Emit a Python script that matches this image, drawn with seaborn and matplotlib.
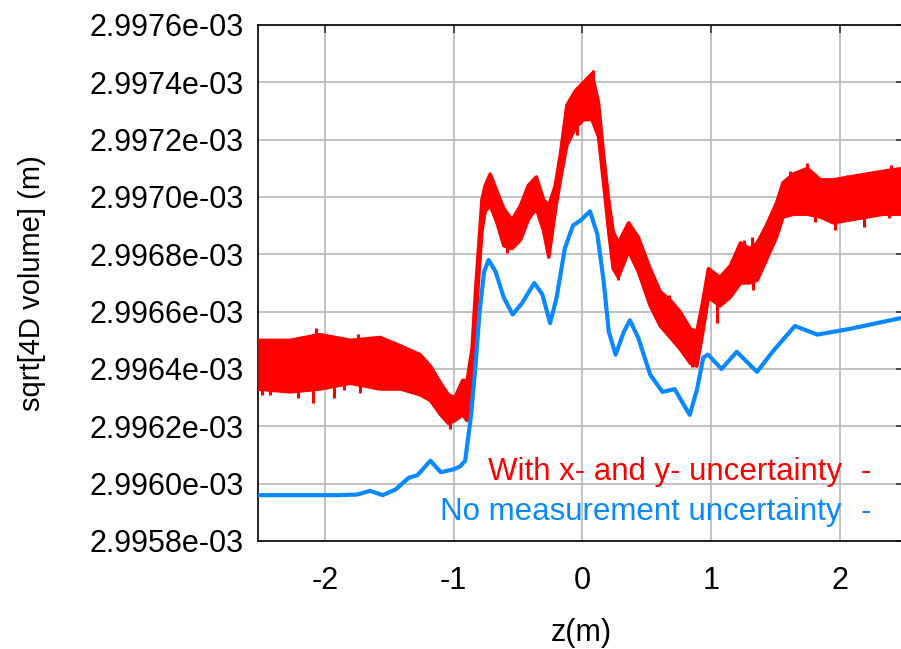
import numpy as np
import pandas as pd
import seaborn as sns
import matplotlib
matplotlib.use("Agg")
from matplotlib import pyplot as plt
from matplotlib.ticker import FuncFormatter

# values in units of 1e-3 m
blue_z = [-2.52, -1.9, -1.75, -1.65, -1.55, -1.45, -1.35, -1.28, -1.18, -1.1, -1.0, -0.95,
          -0.91, -0.864, -0.832, -0.80, -0.763, -0.728, -0.674, -0.611, -0.541, -0.468,
          -0.373, -0.31, -0.25, -0.199, -0.136, -0.073, -0.009, 0.06, 0.117, 0.165, 0.206,
          0.259, 0.323, 0.37, 0.434, 0.528, 0.623, 0.718, 0.782, 0.835, 0.892, 0.94, 0.978,
          1.082, 1.2, 1.358, 1.478, 1.652, 1.826, 2.08, 2.5]
blue_v = [2.99596, 2.99596, 2.995962, 2.995975, 2.99596, 2.99598, 2.99602, 2.99603, 2.99608,
          2.99604, 2.99605, 2.99606, 2.99608, 2.99624, 2.99640, 2.99659, 2.99674, 2.99678,
          2.99674, 2.99665, 2.99659, 2.99663, 2.99670, 2.99666, 2.99656, 2.99665, 2.99682,
          2.99690, 2.99692, 2.99695, 2.99687, 2.99671, 2.99653, 2.99645, 2.99653, 2.99657,
          2.99651, 2.99638, 2.99632, 2.99633, 2.99628, 2.99624, 2.99633, 2.99644, 2.99645,
          2.99640, 2.99646, 2.99639, 2.99646, 2.99655, 2.99652, 2.99654, 2.99658]

red_z = [-2.52, -2.27, -2.04, -1.80, -1.57, -1.41, -1.26, -1.18, -1.10, -1.04, -0.99, -0.93,
         -0.895, -0.857, -0.83, -0.805, -0.78, -0.755, -0.715, -0.663, -0.61, -0.546, -0.48,
         -0.42, -0.357, -0.30, -0.26, -0.21, -0.17, -0.12, -0.054, 0.01, 0.075, 0.126, 0.165,
         0.205, 0.24, 0.28, 0.36, 0.435, 0.528, 0.606, 0.684, 0.76, 0.84, 0.89, 0.93, 0.98,
         1.07, 1.15, 1.23, 1.30, 1.36, 1.43, 1.51, 1.56, 1.64, 1.75, 1.85, 1.95, 2.08, 2.21,
         2.34, 2.5]
red_hi = [2.99650, 2.99650, 2.99652, 2.99650, 2.99651, 2.99648, 2.99645, 2.99641, 2.99635,
          2.99631, 2.99630, 2.99636, 2.99636, 2.99647, 2.99667, 2.99683, 2.99699, 2.99704,
          2.99708, 2.99702, 2.99696, 2.99692, 2.99697, 2.99704, 2.99707, 2.99699, 2.99697,
          2.99704, 2.99715, 2.99732, 2.99737, 2.99740, 2.99743, 2.99733, 2.99715, 2.99699,
          2.99688, 2.99684, 2.99691, 2.99686, 2.99675, 2.99667, 2.99664, 2.99660, 2.99654,
          2.99653, 2.99662, 2.99675, 2.99672, 2.99676, 2.99684, 2.99682, 2.99684, 2.99690,
          2.99698, 2.99705, 2.99708, 2.99710, 2.99706, 2.99706, 2.99707, 2.99708, 2.99709,
          2.99710]
red_lo = [2.99633, 2.99632, 2.99633, 2.99635, 2.99633, 2.99633, 2.99631, 2.99629, 2.99624,
          2.99621, 2.99622, 2.99624, 2.99622, 2.99636, 2.99653, 2.99672, 2.99688, 2.99695,
          2.99697, 2.99691, 2.99683, 2.99682, 2.99685, 2.99692, 2.99696, 2.99688, 2.99679,
          2.99695, 2.99706, 2.99718, 2.99724, 2.99727, 2.99727, 2.99721, 2.99705, 2.99688,
          2.99675, 2.99672, 2.99681, 2.99674, 2.99662, 2.99655, 2.99651, 2.99647, 2.99642,
          2.99641, 2.99651, 2.99665, 2.99662, 2.99665, 2.99670, 2.99670, 2.99671, 2.99678,
          2.99686, 2.99693, 2.99694, 2.99694, 2.99693, 2.99691, 2.99692, 2.99693, 2.99694,
          2.99694]

# visible noise spikes of the red trace (z, tip value)
spike_z = [-2.466, -2.388, -2.31, -2.19, -2.07, -1.97, -1.86, -1.74, -1.64,
           -2.49, -2.43, -2.32, -2.21, -2.095, -1.93, -1.85, -1.73, -1.62, -1.03,
           -0.585, -0.04, 0.086, 0.28, 0.67, 0.852, 1.047, 1.253, 1.318, 1.33,
           1.616, 1.75, 2.057, 2.21, 2.40, 1.81, 1.966, 2.186, 2.38]
spike_v = [2.996478, 2.996492, 2.996484, 2.996505, 2.996542, 2.996478, 2.996499, 2.996522, 2.996513,
           2.99631, 2.99631, 2.996327, 2.996298, 2.996283, 2.996298, 2.996327, 2.996315, 2.996345,
           2.99619, 2.996805, 2.997217, 2.997444, 2.996711, 2.996659, 2.996408, 2.99656,
           2.996851, 2.996861, 2.996676, 2.997089, 2.99712, 2.997078, 2.997078, 2.997112,
           2.996914, 2.996886, 2.996895, 2.996926]

y_ticks = [2.9958, 2.9960, 2.9962, 2.9964, 2.9966, 2.9968, 2.9970, 2.9972, 2.9974, 2.9976]
x_ticks = [-2, -1, 0, 1, 2]

sns.set_theme(style="white")
plt.rcParams['font.family'] = ['Liberation Sans', 'DejaVu Sans']
plt.rcParams['text.color'] = 'black'
plt.rcParams['axes.labelcolor'] = 'black'
plt.rcParams['xtick.color'] = 'black'
plt.rcParams['ytick.color'] = 'black'

red = "#ff0000"
blue = "#0a88ff"

fig = plt.figure(figsize=(9.01, 6.49), dpi=100)
ax = fig.add_axes([258 / 901, 108 / 649, 646 / 901, 516 / 649])

df_blue = pd.DataFrame({"z": blue_z, "v": np.array(blue_v) * 1e-3})
rz = np.array(red_z)
rhi = np.array(red_hi) * 1e-3
rlo = np.array(red_lo) * 1e-3

ax.fill_between(rz, rlo, rhi, color=red, lw=0, zorder=3)
ax.plot(rz, rhi, color=red, lw=2.5, zorder=3)
ax.plot(rz, rlo, color=red, lw=2.5, zorder=3)
mid = np.interp(spike_z, rz, (rhi + rlo) / 2)
ax.vlines(spike_z, mid, np.array(spike_v) * 1e-3, color=red, lw=2.2, zorder=3)

sns.lineplot(data=df_blue, x="z", y="v", color=blue, linewidth=3, ax=ax, zorder=4)

ax.set_xlim(-2.52, 2.5)
ax.set_ylim(y_ticks[0] * 1e-3, y_ticks[-1] * 1e-3)
ax.set_xticks(x_ticks)
ax.set_yticks(np.array(y_ticks) * 1e-3)
ax.yaxis.set_major_formatter(FuncFormatter(lambda v, p: f"{v * 1e3:.4f}e-03"))
ax.xaxis.set_major_formatter(FuncFormatter(lambda v, p: f"{v:g}"))

ax.grid(True, color="#b8b8b8", lw=1.2)
ax.set_axisbelow(True)
for s in ax.spines.values():
    s.set_color("#111111")
    s.set_linewidth(1.3)
ax.tick_params(direction="in", length=6, width=1.2, color="#333333",
               top=True, right=True, labelsize=22)
ax.tick_params(axis="y", pad=10.5)
ax.tick_params(axis="x", pad=18)

ax.set_xlabel("z(m)", fontsize=22, labelpad=16)
ax.set_ylabel("sqrt[4D volume] (m)", fontsize=21, labelpad=31)

legend_rows = [("With x- and y- uncertainty", red, 472), ("No measurement uncertainty", blue, 512)]
for label, col, py in legend_rows:
    fig.text(842 / 901, 1 - py / 649, label, color=col, fontsize=22.5, ha="right", va="center")
    fig.text(866 / 901, 1 - py / 649, "-", color=col, fontsize=22.5, ha="center", va="center")

fig.savefig("out.png", dpi=100)
